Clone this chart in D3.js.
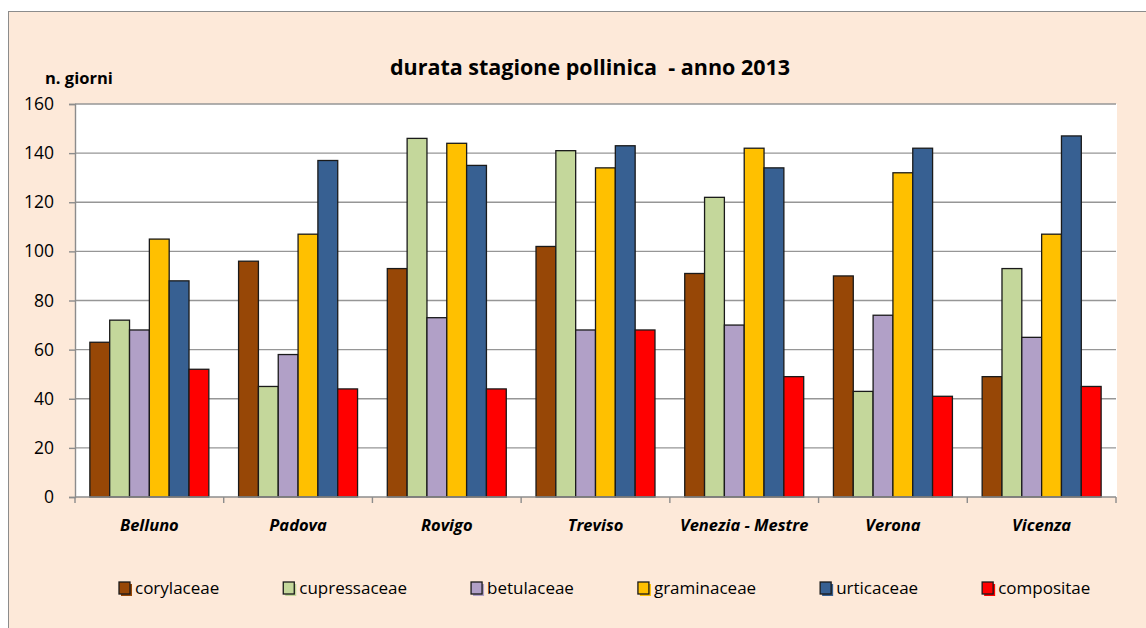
<!DOCTYPE html>
<html>
<head>
<meta charset="utf-8">
<script src="https://cdn.jsdelivr.net/npm/d3@7"></script>
<style>
  body { margin: 0; background: #fff; }
  text { font-family: "Open Sans", sans-serif; fill: #000; }
</style>
</head>
<body>
<div id="container"></div>
<script>
var cities = ["Belluno", "Padova", "Rovigo", "Treviso", "Venezia - Mestre", "Verona", "Vicenza"];
var families = ["corylaceae", "cupressaceae", "betulaceae", "graminaceae", "urticaceae", "compositae"];
var colors = ["#974706", "#C4D79B", "#B1A0C7", "#FFC000", "#376092", "#FF0000"];

var corylaceae   = [63, 96, 93, 102, 91, 90, 49];
var cupressaceae = [72, 45, 146, 141, 122, 43, 93];
var betulaceae   = [68, 58, 73, 68, 70, 74, 65];
var graminaceae  = [105, 107, 144, 134, 142, 132, 107];
var urticaceae   = [88, 137, 135, 143, 134, 142, 147];
var compositae   = [52, 44, 44, 68, 49, 41, 45];
var yTicks = [0, 20, 40, 60, 80, 100, 120, 140, 160];

var series = [corylaceae, cupressaceae, betulaceae, graminaceae, urticaceae, compositae];

var width = 1146, height = 628;
var plotLeft = 75, plotRight = 1116, plotTop = 104, plotBottom = 497;

var svg = d3.select("#container").append("svg")
    .attr("width", width)
    .attr("height", height);

// chart background
svg.append("rect")
    .attr("x", 8.5).attr("y", 11.5)
    .attr("width", width).attr("height", height)
    .attr("fill", "#FDE9D9")
    .attr("stroke", "#8c8c8c");

svg.append("rect")
    .attr("x", plotLeft).attr("y", plotTop)
    .attr("width", plotRight - plotLeft + 1).attr("height", plotBottom - plotTop)
    .attr("fill", "#fff");

var x0 = d3.scaleBand().domain(cities).range([plotLeft, plotRight]);
// gap width 150%: outer padding of 0.75 bar on each side
var x1 = d3.scaleBand().domain(families).range([0, x0.bandwidth()]).paddingInner(0).paddingOuter(0.75);
var y = d3.scaleLinear().domain([0, 160]).range([plotBottom, plotTop]);

// gridlines
svg.append("g").selectAll("line")
    .data(yTicks.filter(function(d) { return d > 0; }))
    .enter().append("line")
    .attr("x1", plotLeft).attr("x2", plotRight)
    .attr("y1", function(d) { return y(d); })
    .attr("y2", function(d) { return y(d); })
    .attr("stroke", "#969696")
    .attr("stroke-width", 1.4);

// bars
var groups = svg.append("g").selectAll("g")
    .data(cities)
    .enter().append("g")
    .attr("transform", function(d) { return "translate(" + x0(d) + ",0)"; });

groups.selectAll("rect")
    .data(function(c, i) { return families.map(function(f, j) { return {f: f, j: j, v: series[j][i]}; }); })
    .enter().append("rect")
    .attr("x", function(d) { return x1(d.f); })
    .attr("width", x1.bandwidth())
    .attr("y", function(d) { return y(d.v); })
    .attr("height", function(d) { return plotBottom - y(d.v); })
    .attr("fill", function(d) { return colors[d.j]; })
    .attr("stroke", "#1a1a1a")
    .attr("stroke-width", 1.3);

// y axis
var yAxis = svg.append("g")
    .attr("transform", "translate(" + plotLeft + ",0)")
    .call(d3.axisLeft(y).tickValues(yTicks).tickSize(6).tickPadding(15));
yAxis.select(".domain").attr("stroke", "#8c8c8c").attr("stroke-width", 1.4);
yAxis.selectAll(".tick line").attr("stroke", "#8c8c8c").attr("stroke-width", 1.4);
yAxis.selectAll(".tick text")
    .style("font-family", "'Open Sans', sans-serif")
    .style("font-size", "17.5px")
    .attr("fill", "#000");

// x axis
var xAxisG = svg.append("g");
xAxisG.append("line")
    .attr("x1", plotLeft).attr("x2", plotRight)
    .attr("y1", plotBottom).attr("y2", plotBottom)
    .attr("stroke", "#8c8c8c").attr("stroke-width", 1.4);
xAxisG.selectAll("line.tk")
    .data(cities.concat(["_end"]))
    .enter().append("line")
    .attr("class", "tk")
    .attr("x1", function(d) { return d === "_end" ? plotRight : x0(d); })
    .attr("x2", function(d) { return d === "_end" ? plotRight : x0(d); })
    .attr("y1", plotBottom).attr("y2", plotBottom + 6)
    .attr("stroke", "#8c8c8c").attr("stroke-width", 1.4);
xAxisG.selectAll("text")
    .data(cities)
    .enter().append("text")
    .attr("x", function(d) { return x0(d) + x0.bandwidth() / 2; })
    .attr("y", 531)
    .attr("text-anchor", "middle")
    .style("font-size", "16.5px")
    .style("font-weight", "bold")
    .style("font-style", "italic")
    .text(function(d) { return d; });

// title
svg.append("text")
    .attr("x", 590).attr("y", 75)
    .attr("text-anchor", "middle")
    .style("font-size", "21.5px")
    .style("font-weight", "bold")
    .attr("xml:space", "preserve")
    .text("durata stagione pollinica  - anno 2013");

svg.append("text")
    .attr("x", 45).attr("y", 84)
    .style("font-size", "16.5px")
    .style("font-weight", "bold")
    .text("n. giorni");

// legend
var legend = svg.append("g");
var lx = 119;
families.forEach(function(f, i) {
  var item = legend.append("g").attr("transform", "translate(" + lx + ",582)");
  item.append("rect")
      .attr("x", 2).attr("y", 2)
      .attr("width", 11).attr("height", 12)
      .attr("fill", colors[i]);
  item.append("rect")
      .attr("x", 0).attr("y", 0)
      .attr("width", 11).attr("height", 12)
      .attr("fill", colors[i])
      .attr("stroke", "#1a1a1a")
      .attr("stroke-width", 1.3);
  var t = item.append("text")
      .attr("x", 16).attr("y", 12)
      .style("font-size", "17px")
      .text(f);
  lx += 16 + t.node().getComputedTextLength() + 64;
});
</script>
</body>
</html>
